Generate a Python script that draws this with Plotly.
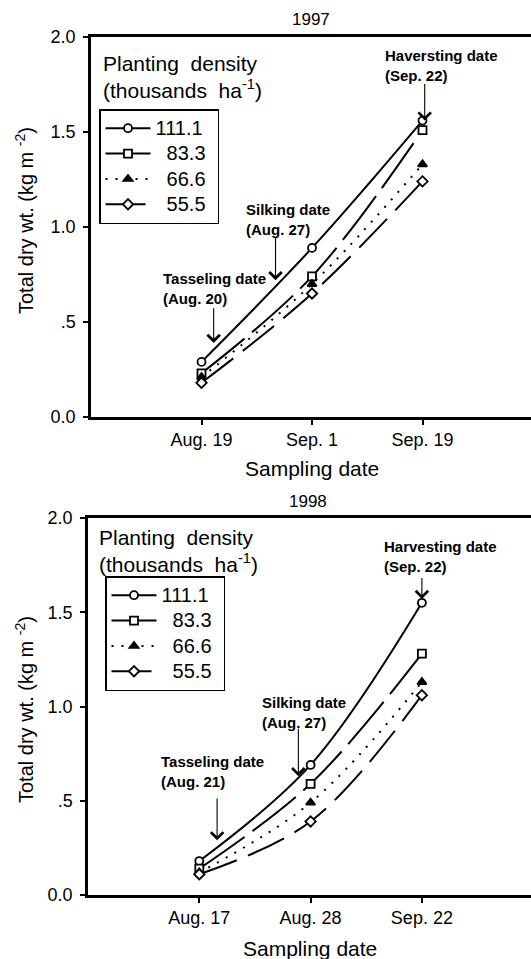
import plotly.graph_objects as go

W, H = 531, 959

densities = ["111.1", "\u200783.3", "\u200766.6", "\u200755.5"]
x_pos = [1, 2, 3]
dates_1997 = ["Aug. 19", "Sep. 1", "Sep. 19"]
dates_1998 = ["Aug. 17", "Aug. 28", "Sep. 22"]

y_1997_111 = [0.29, 0.89, 1.56]
y_1997_83 = [0.23, 0.74, 1.51]
y_1997_66 = [0.21, 0.70, 1.33]
y_1997_55 = [0.18, 0.65, 1.24]

y_1998_111 = [0.18, 0.69, 1.55]
y_1998_83 = [0.14, 0.59, 1.28]
y_1998_66 = [0.12, 0.49, 1.13]
y_1998_55 = [0.11, 0.39, 1.06]

yticks = [0, 0.5, 1.0, 1.5, 2.0]
yticktext = ["0.0", ".5", "1.0", "1.5", "2.0"]

symbols = ["circle", "square", "triangle-up", "diamond"]
fills = ["white", "white", "black", "white"]
dashes = ["solid", "55px,10px", "2px,8px", "40px,12px"]

FONT = "Liberation Sans, Arial, sans-serif"

def py(pix):
    return 1 - pix / H

def px(pix):
    return pix / W

def legend_name(n):
    return '<span style="font-size:20px">' + n + '\u2004</span>'

fig = go.Figure()

series_97 = [y_1997_111, y_1997_83, y_1997_66, y_1997_55]
series_98 = [y_1998_111, y_1998_83, y_1998_66, y_1998_55]

for i, ys in enumerate(series_97):
    fig.add_trace(go.Scatter(
        x=x_pos, y=ys, name=legend_name(densities[i]), mode="lines+markers",
        line=dict(color="black", width=2, dash=dashes[i], shape="spline"),
        marker=dict(symbol=symbols[i], size=8, color=fills[i], line=dict(color="black", width=1.8)),
        xaxis="x", yaxis="y", legend="legend"))
for i, ys in enumerate(series_98):
    fig.add_trace(go.Scatter(
        x=x_pos, y=ys, name=legend_name(densities[i]), mode="lines+markers",
        line=dict(color="black", width=2, dash=dashes[i], shape="spline"),
        marker=dict(symbol=symbols[i], size=8, color=fills[i], line=dict(color="black", width=1.8)),
        xaxis="x2", yaxis="y2", legend="legend2"))

axis_common = dict(showline=True, linecolor="black", linewidth=2.5, ticks="outside",
                   ticklen=5, tickwidth=2, tickcolor="black", showgrid=False, zeroline=False,
                   tickfont=dict(family=FONT, size=18, color="black"), automargin=False)

legend_common = dict(xanchor="left", yanchor="top", bordercolor="black", borderwidth=1.5,
                     bgcolor="white", font=dict(family=FONT, size=17.2, color="black"),
                     itemwidth=45, tracegroupgap=0)

fig.update_layout(
    width=W, height=H, margin=dict(l=0, r=0, t=0, b=0),
    paper_bgcolor="white", plot_bgcolor="white",
    font=dict(family=FONT, color="black"),
    xaxis=dict(domain=[px(91), 1], range=[0, (W - 91) / 110.5], tickvals=x_pos,
               ticktext=dates_1997, mirror=True, anchor="y", **axis_common),
    yaxis=dict(domain=[py(417), py(37)], range=[0, 2.0], tickvals=yticks,
               ticktext=yticktext, anchor="x", ticklabelstandoff=4, **axis_common),
    xaxis2=dict(domain=[px(88), 1], range=[0, (W - 88) / 111.3], tickvals=x_pos,
                ticktext=dates_1998, mirror=True, anchor="y2", **axis_common),
    yaxis2=dict(domain=[py(895), py(518)], range=[0, 2.0], tickvals=yticks,
                ticktext=yticktext, anchor="x2", ticklabelstandoff=4, **axis_common),
    legend=dict(x=px(99), y=py(109), **legend_common),
    legend2=dict(x=px(105), y=py(576), **legend_common),
)

ann = []

def text(xp, yp, t, size=15, angle=0, xanchor="center", bold=False):
    if bold:
        t = "<b>" + t.replace("<br>", "</b><br><b>") + "</b>"
    ann.append(dict(x=px(xp), y=py(yp), xref="paper", yref="paper", text=t,
                    showarrow=False, textangle=angle, xanchor=xanchor, yanchor="middle",
                    font=dict(family=FONT, size=size, color="black"), align="left"))

def arrow(xd, y_tip, y_tail, xr, yr):
    ann.append(dict(x=xd, y=y_tip, xref=xr, yref=yr, ax=xd, ay=y_tail, axref=xr, ayref=yr,
                    text="", showarrow=True, arrowhead=4, arrowsize=2.2, arrowwidth=1.1,
                    arrowcolor="black"))

# titles
text(311, 20, "1997", size=17)
text(308, 501, "1998", size=17)
text(312, 468, "Sampling date", size=21)
text(310, 948, "Sampling date", size=21)
text(24, 221, "Total dry wt. (kg m <sup>-2</sup>)", size=20, angle=-90)
text(24, 710, "Total dry wt. (kg m <sup>-2</sup>)", size=20, angle=-90)

# legend headings
text(101, 77, "Planting  density<br>(thousands  ha<sup>-1</sup>)", size=21, xanchor="left")
text(97, 551, "Planting  density<br>(thousands  ha<sup>-1</sup>)", size=21, xanchor="left")

# stage labels 1997
text(161, 288, "Tasseling date<br>(Aug. 20)", size=15, xanchor="left", bold=True)
text(244, 219, "Silking date<br>(Aug. 27)", size=15, xanchor="left", bold=True)
text(383, 65, "Haversting date<br>(Sep. 22)", size=15, xanchor="left", bold=True)
arrow(1.11, 0.39, 0.58, "x", "y")
arrow(1.67, 0.72, 0.95, "x", "y")
arrow(3.02, 1.56, 1.76, "x", "y")

# stage labels 1998
text(159, 771, "Tasseling date<br>(Aug. 21)", size=15, xanchor="left", bold=True)
text(260, 712, "Silking date<br>(Aug. 27)", size=15, xanchor="left", bold=True)
text(382, 556, "Harvesting date<br>(Sep. 22)", size=15, xanchor="left", bold=True)
arrow(1.16, 0.29, 0.52, "x2", "y2")
arrow(1.89, 0.63, 0.89, "x2", "y2")
arrow(3.0, 1.57, 1.69, "x2", "y2")

fig.update_layout(annotations=ann)

fig.write_html("out.html", config={"displayModeBar": False},
               post_script="document.body.style.margin='0';document.body.style.overflow='hidden';")
